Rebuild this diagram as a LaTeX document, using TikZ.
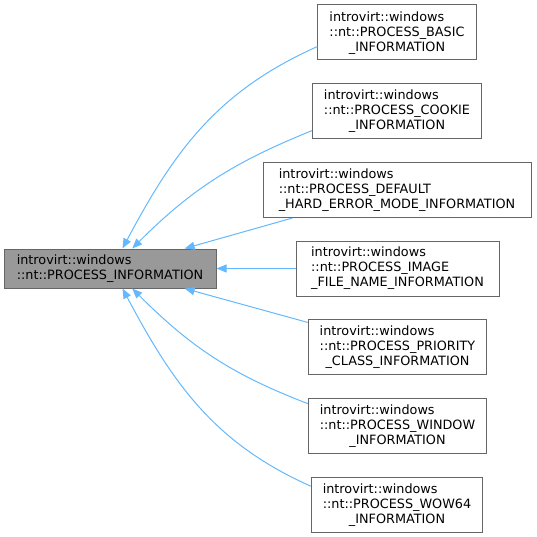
\documentclass[tikz,border=0pt]{standalone}
\usepackage{fontspec}
\setmainfont{DejaVu Sans}
\usetikzlibrary{arrows.meta}
\definecolor{grey40}{HTML}{666666}
\definecolor{grey60}{HTML}{999999}
\definecolor{steelblue1}{HTML}{63B8FF}
\newcommand{\ntname}[2]{\begin{tabular}[b]{@{}l@{}}introvirt::windows\\::nt::#1\end{tabular}\\#2}

\begin{document}
\begin{tikzpicture}[x=1pt,y=1pt,
	classbox/.style={draw=grey40,fill=white,line width=1pt,inner xsep=11.5pt,inner ysep=3pt,minimum height=55pt,font=\fontsize{12.8}{15}\selectfont,align=center},
	basebox/.style={classbox,fill=grey60,minimum height=39pt},
	derived/.style={draw=steelblue1,line width=1pt,-{Triangle[length=10pt,width=8pt]}}]
	\useasboundingbox (0,0) rectangle (536,-537);
	\node[basebox,align=left,minimum width=212pt] (info) at (110,-268.5) {introvirt::windows\\::nt::PROCESS\_INFORMATION};
	\node[classbox] (basic) at (397,-32.5) {\ntname{PROCESS\_BASIC}{\_INFORMATION}};
	\node[classbox] (cookie) at (397,-111) {\ntname{PROCESS\_COOKIE}{\_INFORMATION}};
	\node[classbox,align=left,minimum width=268pt] (harderr) at (397,-190) {introvirt::windows\\::nt::PROCESS\_DEFAULT\\\_HARD\_ERROR\_MODE\_INFORMATION};
	\node[classbox,align=left,minimum width=203pt] (imgfile) at (397.5,-268.5) {introvirt::windows\\::nt::PROCESS\_IMAGE\\\_FILE\_NAME\_INFORMATION};
	\node[classbox] (priority) at (397.5,-346.5) {\ntname{PROCESS\_PRIORITY}{\_CLASS\_INFORMATION}};
	\node[classbox] (window) at (397.5,-426) {\ntname{PROCESS\_WINDOW}{\_INFORMATION}};
	\node[classbox] (wow64) at (397,-504.5) {\ntname{PROCESS\_WOW64}{\_INFORMATION}};
	\path[derived] (basic.190) to[out=204,in=62] (info.58);
	\path[derived] (cookie.193) to[out=202,in=45] (info.42);
	\path[derived] (harderr.195) -- (info.15);
	\path[derived] (imgfile.west) -- (info.east);
	\path[derived] (priority.165) -- (info.-15);
	\path[derived] (window.166) to[out=159,in=-45] (info.-42);
	\path[derived] (wow64.168) to[out=156,in=-62] (info.-58);
\end{tikzpicture}
\end{document}
